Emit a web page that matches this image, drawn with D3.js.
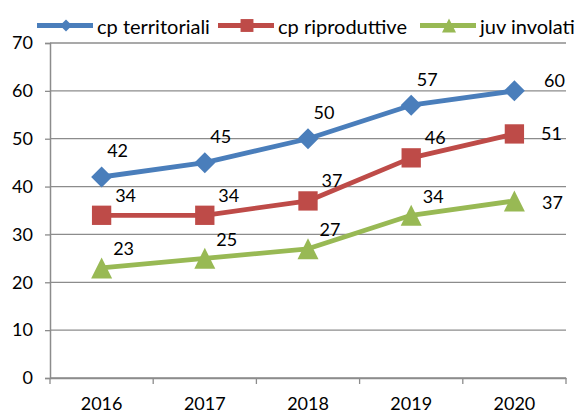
<!DOCTYPE html>
<html><head><meta charset="utf-8">
<script src="https://cdn.jsdelivr.net/npm/d3@7"></script>
<style>body{margin:0;background:#fff}svg{display:block}</style>
</head><body>
<svg id="c" width="576" height="415"></svg>
<script>
const years = ["2016","2017","2018","2019","2020"];
const seriesNames = ["cp territoriali","cp riproduttive","juv involati"];
const cpTerritoriali = [42,45,50,57,60];
const cpRiproduttive = [34,34,37,46,51];
const juvInvolati = [23,25,27,34,37];
const yTicks = [0,10,20,30,40,50,60,70];

// style
const colors = ["#4A7EBB","#BE4B48","#98B954"];
const font = "Lato, 'Open Sans', sans-serif";
const labelDx = [16, 24, 22], labelDy = [-26, -20, -19];
const lastDx = [40, 37, 38], lastDy = [-10, 0, 2];
const series = [cpTerritoriali, cpRiproduttive, juvInvolati];

function marker(s, r) {
  if (s === 0) return `M0,${-r}L${r},0L0,${r}L${-r},0Z`;
  if (s === 1) { const h = r*0.92; return `M${-h},${-h}H${h}V${h}H${-h}Z`; }
  return `M0,${-r}L${r},${r}H${-r}Z`;
}

const svg = d3.select("#c");
const m = {l:50, r:566, t:43, b:378};
const x = d3.scaleBand().domain(years).range([m.l, m.r]);
const y = d3.scaleLinear().domain([0,70]).range([m.b, m.t]);

// gridlines
svg.append("g").selectAll("line").data(yTicks).join("line")
  .attr("x1", m.l).attr("x2", m.r)
  .attr("y1", d=>y(d)).attr("y2", d=>y(d))
  .attr("stroke", "#8c8c8c").attr("stroke-width", 1.3);

// y axis
const ya = svg.append("g").attr("transform", `translate(${m.l},0)`)
  .call(d3.axisLeft(y).tickValues(yTicks).tickSize(5).tickPadding(12));
ya.select(".domain").attr("stroke","#8c8c8c").attr("stroke-width",1.5);
ya.selectAll(".tick line").attr("stroke","#8c8c8c").attr("stroke-width",1.3);
ya.selectAll("text").attr("font-family",font).attr("font-size",18).attr("fill","#000");

// x axis
const xa = svg.append("g").attr("transform", `translate(0,${m.b})`)
  .call(d3.axisBottom(x).tickSize(0).tickPadding(19));
xa.select(".domain").attr("stroke","#8c8c8c").attr("stroke-width",1.5);
xa.selectAll("text").attr("font-family",font).attr("font-size",18).attr("fill","#000");
const bounds = years.map(d=>x(d)).concat([x(years[years.length-1])+x.bandwidth()]);
xa.append("g").selectAll("line").data(bounds).join("line")
  .attr("x1",d=>d).attr("x2",d=>d).attr("y1",0).attr("y2",6)
  .attr("stroke","#8c8c8c").attr("stroke-width",1.3);

const cx = d => x(d) + x.bandwidth()/2;
const line = d3.line().x((d,i)=>cx(years[i])).y(d=>y(d));

series.forEach((vals, s) => {
  const g = svg.append("g");
  g.append("path").datum(vals).attr("d", line)
    .attr("fill","none").attr("stroke",colors[s]).attr("stroke-width",4.8)
    .attr("stroke-linejoin","round");
  g.selectAll("path.m").data(vals).join("path").attr("class","m")
    .attr("transform",(d,i)=>`translate(${cx(years[i])},${y(d)})`)
    .attr("d", marker(s, 10.5))
    .attr("fill",colors[s]);
  const last = vals.length-1;
  g.selectAll("text").data(vals).join("text")
    .attr("x",(d,i)=> cx(years[i]) + (i===last ? lastDx[s] : labelDx[s]))
    .attr("y",(d,i)=> y(d) + (i===last ? lastDy[s] : labelDy[s]))
    .attr("dy","0.36em").attr("text-anchor","middle")
    .attr("font-family",font).attr("font-size",18).attr("fill","#000")
    .text(d=>d);
});

// legend
const legX = [37, 218, 420];
const leg = svg.append("g");
seriesNames.forEach((n, s) => {
  const lg = leg.append("g").attr("transform",`translate(${legX[s]},25.5)`);
  lg.append("line").attr("x1",0).attr("x2",56).attr("y1",0).attr("y2",0)
    .attr("stroke",colors[s]).attr("stroke-width",4.8);
  lg.append("path").attr("transform","translate(29,0)")
    .attr("d", marker(s, s===0 ? 6 : 7)).attr("fill",colors[s]);
  lg.append("text").attr("x",60).attr("y",1).attr("dy","0.35em")
    .attr("font-family",font).attr("font-size",20).attr("fill","#000").text(n);
});
</script>
</body></html>
